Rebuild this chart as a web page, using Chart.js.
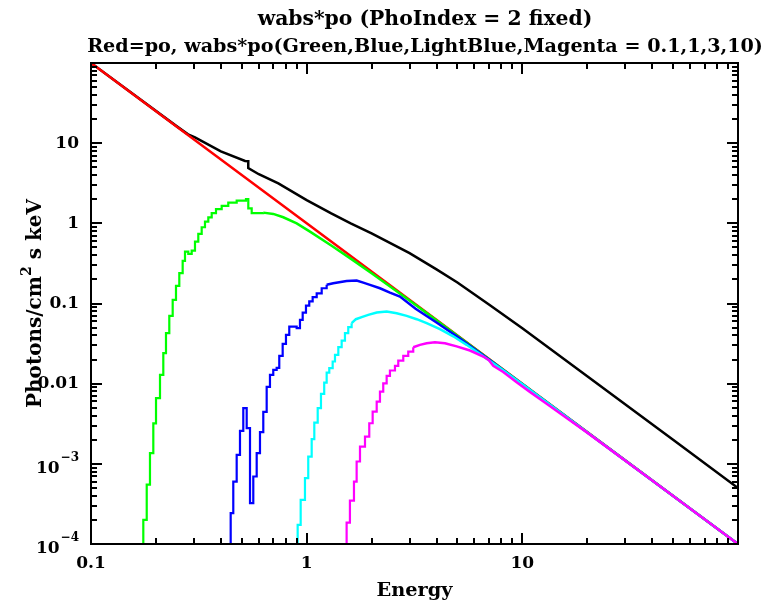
<!DOCTYPE html>
<html>
<head>
<meta charset="utf-8">
<script src="https://cdn.jsdelivr.net/npm/chart.js@4.4.1/dist/chart.umd.min.js"></script>
<style>
  html, body { margin: 0; padding: 0; background: #fff; }
  canvas { display: block; }
</style>
</head>
<body>
<canvas id="myChart" width="769" height="608"></canvas>
<script>
// energies in keV, flux in photons/cm^2 s keV

// po alone (red)
const redE = [0.1, 1, 10, 100];
const redF = [100, 1, 0.01, 1e-4];

// sum of all models (black)
const blackE = [0.1, 0.25, 0.2818, 0.3035, 0.4, 0.518, 0.536, 0.536, 0.6, 0.739, 1.0, 1.3, 1.6, 2.0, 3.0, 4.0, 5.0, 7.0, 10, 20, 50, 100];
const blackF = [100, 16.2, 12.9, 11.8, 7.9, 6.0, 5.95, 4.9, 4.1, 3.15, 1.95, 1.33, 1.0, 0.75, 0.425, 0.267, 0.183, 0.097, 0.049, 0.0124, 2.0e-3, 5e-4];

// wabs*po, nH = 0.1 (green)
const greenStepE = [0.1748, 0.1748, 0.1813, 0.1877, 0.1945, 0.2002, 0.2089, 0.2164, 0.2227, 0.2307, 0.2392, 0.2478, 0.2567, 0.2661, 0.2728, 0.2825, 0.2930, 0.3035, 0.3144, 0.3260, 0.3377, 0.3499, 0.3628, 0.3798, 0.4036, 0.4330, 0.4737, 0.5232, 0.5362, 0.556, 0.629];
const greenStepF = [1e-5, 2.0e-4, 5.5e-4, 1.36e-3, 3.2e-3, 6.6e-3, 0.0129, 0.024, 0.0427, 0.070, 0.111, 0.166, 0.239, 0.340, 0.444, 0.415, 0.457, 0.591, 0.738, 0.894, 1.05, 1.19, 1.34, 1.50, 1.65, 1.81, 1.92, 2.00, 1.54, 1.34, 1.36];
const greenE = [0.629, 0.700, 0.779, 0.899, 1.036, 1.3, 1.6, 2.0, 3.0, 5.0, 10, 30, 100];
const greenF = [1.36, 1.31, 1.19, 1.00, 0.789, 0.53, 0.363, 0.239, 0.109, 0.0395, 0.0099, 1.1e-3, 1e-4];

// wabs*po, nH = 1 (blue)
const blueStepE = [0.4443, 0.4443, 0.4568, 0.4737, 0.4907, 0.5083, 0.5271, 0.5461, 0.5656, 0.5865, 0.6075, 0.6293, 0.6525, 0.6758, 0.7000, 0.7259, 0.7464, 0.7740, 0.8017, 0.8305, 0.8988, 0.9310, 0.9584, 0.9926, 1.028, 1.066, 1.113, 1.174, 1.238];
const blueStepF = [1e-5, 2.43e-4, 6.0e-4, 1.29e-3, 2.58e-3, 4.95e-3, 2.79e-3, 3.24e-4, 6.95e-4, 1.36e-3, 2.48e-3, 4.45e-3, 9.1e-3, 0.0129, 0.0149, 0.0157, 0.0222, 0.0313, 0.0406, 0.0515, 0.0492, 0.0625, 0.0771, 0.094, 0.106, 0.120, 0.134, 0.155, 0.171];
const blueE = [1.238, 1.328, 1.532, 1.705, 1.830, 1.966, 2.187, 2.433, 2.707, 3.2, 4.0, 5.0, 7.0, 10, 30, 100];
const blueF = [0.171, 0.179, 0.191, 0.193, 0.182, 0.171, 0.155, 0.137, 0.122, 0.086, 0.058, 0.0384, 0.0200, 0.0098, 1.1e-3, 1e-4];

// wabs*po, nH = 3 (light blue)
const cyanStepE = [0.9083, 0.9083, 0.9380, 0.9820, 1.017, 1.055, 1.085, 1.125, 1.165, 1.206, 1.238, 1.273, 1.320, 1.353, 1.402, 1.453, 1.505, 1.559, 1.616];
const cyanStepF = [1e-5, 1.73e-4, 3.56e-4, 6.64e-4, 1.23e-3, 2.03e-3, 3.27e-3, 4.95e-3, 7.46e-3, 0.0103, 0.0137, 0.0156, 0.0189, 0.0229, 0.0285, 0.0345, 0.0427, 0.0506, 0.0568];
const cyanE = [1.616, 1.692, 1.799, 1.930, 2.112, 2.349, 2.615, 2.909, 3.236, 3.600, 4.150, 4.782, 5.518, 6.360, 8.0, 10, 30, 100];
const cyanF = [0.0568, 0.0637, 0.0675, 0.0721, 0.0771, 0.0793, 0.0757, 0.0700, 0.0637, 0.0568, 0.0479, 0.039, 0.0305, 0.0234, 0.0152, 0.0098, 1.1e-3, 1e-4];

// wabs*po, nH = 10 (magenta)
const magStepE = [1.532, 1.532, 1.587, 1.657, 1.705, 1.767, 1.864, 1.951, 2.023, 2.112, 2.187, 2.265, 2.349, 2.433, 2.567, 2.659, 2.805, 2.958, 3.120];
const magStepF = [1e-5, 1.85e-4, 3.48e-4, 6.0e-4, 1.07e-3, 1.64e-3, 2.19e-3, 3.21e-3, 4.49e-3, 5.98e-3, 7.96e-3, 0.0101, 0.0125, 0.0146, 0.0167, 0.0194, 0.0222, 0.0251, 0.0285];
const magE = [3.120, 3.352, 3.600, 3.933, 4.378, 4.960, 5.715, 6.589, 7.0, 7.332, 8.155, 9.41, 10.84, 12.96, 20, 40, 100];
const magF = [0.0285, 0.0305, 0.0320, 0.0329, 0.0320, 0.0292, 0.0259, 0.0218, 0.0196, 0.0167, 0.0140, 0.0104, 0.0079, 0.0056, 2.45e-3, 6.2e-4, 1e-4];

// axis labels
const xTickVals = [0.1, 1, 10];
const xTickText = ["0.1", "1", "10"];
const yTickVals = [10, 1, 0.1, 0.01, 1e-3, 1e-4];
const yTickText = [["10", ""], ["1", ""], ["0.1", ""], ["0.01", ""], ["10", "\u22123"], ["10", "\u22124"]];

const titleText = "wabs*po (PhoIndex = 2 fixed)";
const subTitleText = "Red=po, wabs*po(Green,Blue,LightBlue,Magenta = 0.1,1,3,10)";
const xTitle = "Energy";

const FONT = "'DejaVu Serif', 'Liberation Serif', serif";

function pts(es, fs) {
  return es.map(function (e, i) { return { x: e, y: fs[i] }; });
}

function line(es, fs, color, stepped, order) {
  return {
    data: pts(es, fs),
    borderColor: color,
    borderWidth: stepped ? 2.2 : 2.5,
    pointRadius: 0,
    fill: false,
    tension: 0,
    stepped: stepped,
    borderJoinStyle: "miter",
    order: order
  };
}

function setFont(ctx, size) {
  ctx.font = "bold " + size + "px " + FONT;
}

// pick font size so the text fills a given width
function fitSize(ctx, text, width) {
  setFont(ctx, 20);
  return 20 * width / ctx.measureText(text).width;
}

const framePlugin = {
  id: "frame",
  afterDraw: function (chart) {
    var ctx = chart.ctx;
    var a = chart.chartArea;
    var xs = chart.scales.x, ys = chart.scales.y;
    ctx.save();
    ctx.strokeStyle = "#000";
    ctx.fillStyle = "#000";
    ctx.lineWidth = 2;
    ctx.lineCap = "butt";

    // box
    ctx.strokeRect(a.left, a.top, a.right - a.left, a.bottom - a.top);

    // ticks, pointing inwards on all four sides
    ctx.beginPath();
    var d, m, v, p, len;
    for (d = 0.1; d < 100; d *= 10) {
      for (m = 1; m <= 10; m++) {
        v = d * m;
        p = Math.round(xs.getPixelForValue(v));
        len = (m === 1 || m === 10) ? 11 : 6;
        ctx.moveTo(p, a.bottom); ctx.lineTo(p, a.bottom - len);
        ctx.moveTo(p, a.top); ctx.lineTo(p, a.top + len);
      }
    }
    for (d = 1e-4; d < 100; d *= 10) {
      for (m = 1; m <= 10; m++) {
        v = d * m;
        p = Math.round(ys.getPixelForValue(v));
        len = (m === 1 || m === 10) ? 11 : 6;
        ctx.moveTo(a.left, p); ctx.lineTo(a.left + len, p);
        ctx.moveTo(a.right, p); ctx.lineTo(a.right - len, p);
      }
    }
    ctx.stroke();

    // x tick labels
    setFont(ctx, 17);
    ctx.textAlign = "center";
    ctx.textBaseline = "alphabetic";
    xTickVals.forEach(function (val, i) {
      ctx.fillText(xTickText[i], xs.getPixelForValue(val), a.bottom + 24);
    });

    // y tick labels, with superscript powers
    ctx.textAlign = "right";
    ctx.textBaseline = "middle";
    yTickVals.forEach(function (val, i) {
      var y = ys.getPixelForValue(val);
      var base = yTickText[i][0], sup = yTickText[i][1];
      var xr = a.left - 12;
      if (sup) {
        setFont(ctx, 12);
        var sw = ctx.measureText(sup).width;
        ctx.fillText(sup, xr, y - 6);
        setFont(ctx, 17);
        ctx.fillText(base, xr - sw - 1, y + 5);
      } else {
        setFont(ctx, 17);
        ctx.fillText(base, xr, y);
      }
    });

    // titles
    ctx.textAlign = "center";
    ctx.textBaseline = "alphabetic";
    setFont(ctx, fitSize(ctx, titleText, 335));
    ctx.fillText(titleText, 425, 25);
    setFont(ctx, fitSize(ctx, subTitleText, 676));
    ctx.fillText(subTitleText, 425, 52);

    // x axis title
    setFont(ctx, fitSize(ctx, xTitle, 76));
    ctx.fillText(xTitle, (a.left + a.right) / 2, 596);

    // y axis title, rotated
    ctx.translate(41, (a.top + a.bottom) / 2);
    ctx.rotate(-Math.PI / 2);
    var s1 = "Photons/cm", s2 = "2", s3 = " s keV";
    var big = 20, small = 14;
    setFont(ctx, big);
    var w1 = ctx.measureText(s1).width, w3 = ctx.measureText(s3).width;
    setFont(ctx, small);
    var w2 = ctx.measureText(s2).width;
    var x0 = -(w1 + w2 + w3) / 2;
    ctx.textAlign = "left";
    setFont(ctx, big);
    ctx.fillText(s1, x0, 0);
    ctx.fillText(s3, x0 + w1 + w2, 0);
    setFont(ctx, small);
    ctx.fillText(s2, x0 + w1, -10);
    ctx.restore();
  }
};

var ctx = document.getElementById("myChart").getContext("2d");
var chart = new Chart(ctx, {
  type: "line",
  data: {
    datasets: [
      line(blackE, blackF, "#000000", false, 6),
      line(redE, redF, "#ff0000", false, 5),
      line(greenStepE, greenStepF, "#00ff00", true, 4),
      line(greenE, greenF, "#00ff00", false, 4),
      line(blueStepE, blueStepF, "#0000ff", true, 3),
      line(blueE, blueF, "#0000ff", false, 3),
      line(cyanStepE, cyanStepF, "#00ffff", true, 2),
      line(cyanE, cyanF, "#00ffff", false, 2),
      line(magStepE, magStepF, "#ff00ff", true, 1),
      line(magE, magF, "#ff00ff", false, 1)
    ]
  },
  options: {
    responsive: false,
    animation: false,
    devicePixelRatio: 1,
    layout: { padding: { left: 91, top: 63, right: 31, bottom: 64 } },
    scales: {
      x: { type: "logarithmic", min: 0.1, max: 100, display: false },
      y: { type: "logarithmic", min: 1e-4, max: 100, display: false }
    },
    plugins: {
      legend: { display: false },
      title: { display: false },
      tooltip: { enabled: false }
    }
  },
  plugins: [framePlugin]
});
</script>
</body>
</html>
